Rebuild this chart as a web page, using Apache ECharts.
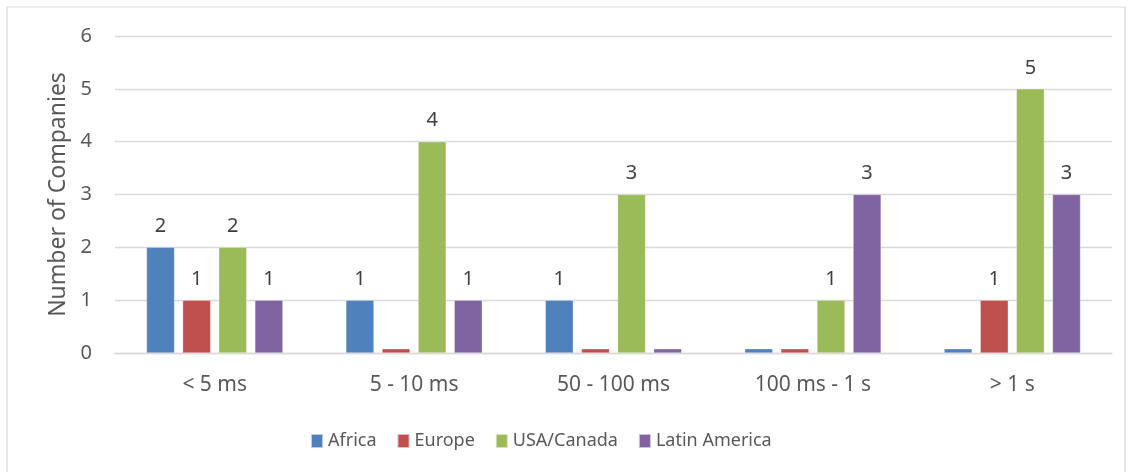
<!DOCTYPE html>
<html><head><meta charset="utf-8">
<script src="https://cdn.jsdelivr.net/npm/echarts@6/dist/echarts.min.js"></script>
<style>html,body{margin:0;padding:0;background:#fff}#c{width:1133px;height:472px}</style>
</head><body><div id="c"></div>
<script>
const categories = ['< 5 ms', '5 - 10 ms', '50 - 100 ms', '100 ms - 1 s', '> 1 s'];
const africa = [2, 1, 1, 0, 0];
const europe = [1, 0, 0, 0, 1];
const usaCanada = [2, 4, 3, 1, 5];
const latinAmerica = [1, 1, 0, 3, 3];
const seriesNames = ['Africa', 'Europe', 'USA/Canada', 'Latin America'];
const colors = ['#4F81BD', '#C0504D', '#9BBB59', '#8064A2'];
const yTicks = [0, 1, 2, 3, 4, 5, 6];
const ZERO_STUB = 0.08;

const font = '"Noto Sans", "Open Sans", sans-serif';
const chart = echarts.init(document.getElementById('c'), null, {renderer: 'canvas'});
function mk(name, vals, i) {
  return {
    name, type: 'bar',
    data: vals.map(v => ({value: v === 0 ? ZERO_STUB : v, real: v, label: {show: v !== 0}})),
    barWidth: 28, barGap: '29%',
    itemStyle: {color: colors[i], borderColor: 'rgba(255,255,255,0.6)', borderWidth: 0.5},
    label: {show: true, position: 'top', distance: 11, color: '#404040', fontSize: 20, fontFamily: font,
      formatter: p => p.data.real}
  };
}
chart.setOption({
  animation: false,
  textStyle: {fontFamily: font},
  graphic: [{type: 'rect', shape: {x: 7, y: 7, width: 1118, height: 470}, style: {fill: 'none', stroke: '#d9d9d9', lineWidth: 1.2}, silent: true, z: -1}],
  grid: {left: 115, right: 21, top: 36, bottom: 119},
  legend: {top: 427, left: 305, itemWidth: 12, itemHeight: 14, itemGap: 20, icon: 'rect',
    textStyle: {color: '#595959', fontSize: 18, fontFamily: font}, data: seriesNames},
  xAxis: {type: 'category', data: categories,
    axisLine: {show: true, lineStyle: {color: '#d9d9d9', width: 1.3}}, axisTick: {show: false},
    axisLabel: {color: '#595959', fontSize: 21, margin: 22, fontFamily: font}},
  yAxis: {type: 'value', min: yTicks[0], max: yTicks[yTicks.length - 1], interval: 1,
    name: 'Number of Companies', nameLocation: 'middle', nameGap: 45, nameRotate: 90,
    nameTextStyle: {color: '#595959', fontSize: 23, fontFamily: font},
    axisLine: {show: false}, axisTick: {show: false},
    axisLabel: {color: '#595959', fontSize: 20, margin: 23, fontFamily: font},
    splitLine: {lineStyle: {color: '#d9d9d9', width: 1.3}}},
  series: [mk(seriesNames[0], africa, 0), mk(seriesNames[1], europe, 1), mk(seriesNames[2], usaCanada, 2), mk(seriesNames[3], latinAmerica, 3)]
});
</script></body></html>
